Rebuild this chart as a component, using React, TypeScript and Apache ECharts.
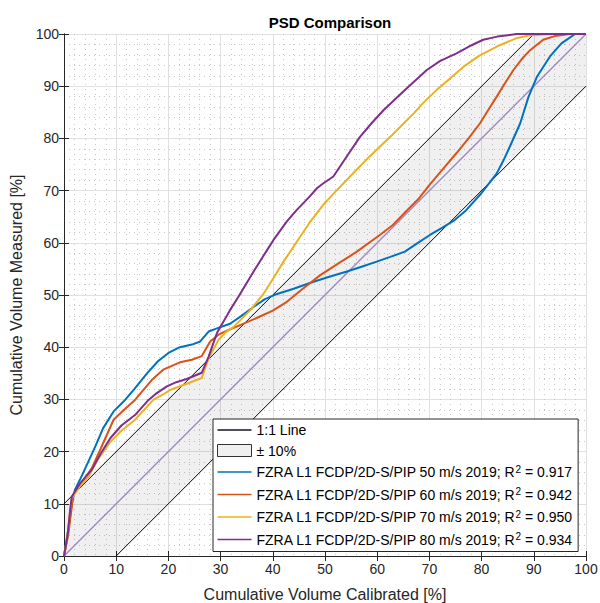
import React, { useEffect, useRef } from "react";
import * as echarts from "echarts";

// ---- data ----
const tickValues = [0, 10, 20, 30, 40, 50, 60, 70, 80, 90, 100];

const calibrated50 = [0, 0.8, 1.5, 2.1, 3, 4.4, 6, 7.5, 9.5, 11.7, 13.5, 15.9, 18, 20, 22.2, 24.5, 26.1, 27.7, 29.3, 31.8, 34, 36.3, 38.5, 40.8, 44, 47.1, 50.5, 54.2, 57, 59.9, 62.5, 65.3, 67.5, 70.1, 72.5, 74.9, 77, 79.7, 81.5, 82.9, 84.2, 85.4, 87.4, 89, 90.6, 93.1, 95.3, 97.9, 100];
const measured50 = [0, 5, 10, 12.7, 14.5, 17.5, 21, 24.5, 27.7, 29.9, 32, 35, 37.3, 38.9, 40, 40.5, 41.1, 43, 43.6, 44.5, 46, 47.7, 49.2, 50.2, 51.2, 52.3, 53.4, 54.5, 55.4, 56.4, 57.3, 58.3, 59.8, 61.5, 62.9, 64.4, 66.2, 69.2, 71.5, 73.3, 75.8, 78.4, 82.9, 88, 91.8, 95.7, 98.2, 100, 100];

const calibrated60 = [0, 0.8, 1.5, 1.8, 3, 5.3, 7, 9.5, 11.5, 13.6, 16.8, 19, 22.2, 24.5, 26.4, 28, 29.6, 31.5, 33.4, 36.9, 40, 42.7, 45.5, 49.1, 52.5, 56.1, 60.5, 63, 65.7, 68, 70.1, 72.5, 75.2, 77.5, 79.7, 81.3, 82.9, 84.5, 86.1, 87.7, 89.3, 91.8, 94, 96.9, 100];
const measured60 = [0, 4, 9.5, 11.7, 13.5, 16.8, 20.5, 26.1, 28, 29.9, 33.7, 35.7, 37.1, 37.6, 38.3, 41.1, 42.4, 43.3, 44.1, 45.6, 47, 48.7, 51, 53.8, 56, 58.3, 61.5, 63.4, 66.2, 68.5, 71.2, 74, 77.2, 80, 82.9, 85.5, 88, 90.6, 93.1, 95.2, 96.9, 98.9, 99.6, 100, 100];

const calibrated70 = [0, 0.7, 1.2, 1.5, 3, 4.7, 6.5, 8.9, 11, 13.6, 17.1, 19.4, 20.3, 23.5, 26.4, 27.7, 29.6, 31, 32.5, 35.7, 38.2, 40.1, 42, 44.6, 47, 49.7, 52, 54.8, 58.5, 62.5, 65, 67, 69, 71.4, 74, 76.5, 79.5, 82.9, 86.7, 89, 93.7, 100];
const measured70 = [0, 4, 9, 11.1, 13.3, 15.2, 18.5, 21.9, 24, 26.1, 29.9, 31.2, 31.8, 33, 34.1, 37.9, 41.4, 42.9, 43.9, 47.1, 50.2, 53.2, 56.3, 60.2, 63.8, 67.3, 69.8, 72.7, 76.5, 80.3, 82.8, 84.8, 87, 89.3, 91.5, 93.7, 95.8, 97.6, 99.2, 99.7, 100, 100];

const calibrated80 = [0, 0.7, 1.2, 1.5, 3, 5.3, 7, 8.9, 11, 13.6, 16.2, 17.5, 19.7, 21.5, 23.5, 26.4, 27.7, 29.3, 31.8, 33.5, 35, 36.5, 38.9, 40.1, 42.7, 44.6, 47, 48.5, 49.7, 51.6, 54, 56.7, 59, 61.2, 65, 69.5, 72, 75.2, 78, 80.3, 83, 86.7, 100];
const measured80 = [0, 4, 9, 11.4, 13.8, 16.5, 19.6, 22.6, 25, 27, 29.9, 31, 32.5, 33.3, 33.9, 35.1, 38.2, 42.7, 47.1, 49.8, 52.3, 54.8, 58.6, 60.5, 64.1, 66.3, 68.8, 70.5, 71.4, 72.7, 76.3, 80.3, 83, 85.4, 89, 93.1, 94.8, 96.3, 97.8, 98.9, 99.5, 100, 100];

const oneToOne = [[0, 0], [100, 100]];
const upperBound = [[0, 10], [90, 100]];
const lowerBound = [[10, 0], [100, 90]];
const bandPolygon = [[0, 0], [0, 10], [90, 100], [100, 100], [100, 90], [10, 0]];

const seriesNames = [
  "FZRA L1 FCDP/2D-S/PIP 50 m/s 2019; R^2 = 0.917",
  "FZRA L1 FCDP/2D-S/PIP 60 m/s 2019; R^2 = 0.942",
  "FZRA L1 FCDP/2D-S/PIP 70 m/s 2019; R^2 = 0.950",
  "FZRA L1 FCDP/2D-S/PIP 80 m/s 2019; R^2 = 0.934",
];
const seriesColors = ["#0072BD", "#D95319", "#EDB120", "#7E2F8E"];
const seriesX = [calibrated50, calibrated60, calibrated70, calibrated80];
const seriesY = [measured50, measured60, measured70, measured80];

const FONT = "'Liberation Sans', Arial, Helvetica, sans-serif";
const AXIS_COLOR = "#262626";
const LINE_ICON = "path://M0,0 L34,0 L34,1.3 L0,1.3 Z";

function zip(xs: number[], ys: number[]) {
  return xs.map((x, i) => [x, ys[i]]);
}

export default function App() {
  const ref = useRef<HTMLDivElement>(null);
  useEffect(() => {
    if (!ref.current) return;
    const chart = echarts.init(ref.current, undefined, { renderer: "svg" });

    const baseAxis = {
      type: "value" as const,
      min: 0,
      max: 100,
      interval: 10,
    };

    const option: any = {
      animation: false,
      backgroundColor: "#ffffff",
      textStyle: { fontFamily: FONT },
      title: {
        text: "PSD Comparison",
        left: 325,
        top: 10,
        textAlign: "center",
        textStyle: { fontFamily: FONT, fontSize: 15, fontWeight: "bold", color: "#000" },
      },
      grid: { left: 64, right: 14, top: 34, bottom: 47, containLabel: false, outerBoundsMode: "none" },
      xAxis: [
        {
          ...baseAxis,
          position: "bottom",
          name: "Cumulative Volume Calibrated [%]",
          nameLocation: "middle",
          nameGap: 30,
          nameTextStyle: { fontFamily: FONT, fontSize: 16, color: "#262626" },
          axisLine: { show: true, lineStyle: { color: AXIS_COLOR, width: 1 } },
          axisTick: { show: true, inside: true, length: 5, lineStyle: { color: AXIS_COLOR } },
          axisLabel: {
            fontFamily: FONT, fontSize: 14, color: "#262626", margin: 6,
            formatter: (v: number) => (tickValues.includes(Math.round(v)) ? String(Math.round(v)) : ""),
          },
          splitLine: { show: true, lineStyle: { color: "#e0e0e0", width: 1 } },
          minorTick: { show: false, splitNumber: 5 },
          minorSplitLine: { show: true, lineStyle: { color: "#c8c8c8", width: 1, type: [1, 4] } },
        },
        {
          ...baseAxis,
          position: "top",
          axisLine: { show: true, lineStyle: { color: AXIS_COLOR, width: 1 } },
          axisTick: { show: true, inside: true, length: 5, lineStyle: { color: AXIS_COLOR } },
          axisLabel: { show: false },
          splitLine: { show: false },
        },
      ],
      yAxis: [
        {
          ...baseAxis,
          position: "left",
          name: "Cumulative Volume Measured [%]",
          nameLocation: "middle",
          nameGap: 32,
          nameTextStyle: { fontFamily: FONT, fontSize: 16, color: "#262626" },
          axisLine: { show: true, lineStyle: { color: AXIS_COLOR, width: 1 } },
          axisTick: { show: true, inside: true, length: 5, lineStyle: { color: AXIS_COLOR } },
          axisLabel: { fontFamily: FONT, fontSize: 14, color: "#262626", margin: 5 },
          splitLine: { show: true, lineStyle: { color: "#e0e0e0", width: 1 } },
          minorTick: { show: false, splitNumber: 5 },
          minorSplitLine: { show: true, lineStyle: { color: "#c8c8c8", width: 1, type: [1, 4] } },
        },
        {
          ...baseAxis,
          position: "right",
          axisLine: { show: true, lineStyle: { color: AXIS_COLOR, width: 1 } },
          axisTick: { show: true, inside: true, length: 5, lineStyle: { color: AXIS_COLOR } },
          axisLabel: { show: false },
          splitLine: { show: false },
        },
      ],
      legend: {
        orient: "vertical",
        left: 213,
        top: 419,
        padding: [4, 6, 4, 4],
        itemWidth: 34,
        itemHeight: 12,
        itemGap: 6.5,
        backgroundColor: "#ffffff",
        borderColor: AXIS_COLOR,
        borderWidth: 1,
        borderRadius: 0,
        textStyle: {
          fontFamily: FONT,
          fontSize: 14,
          color: "#000",
          rich: {
            t: { fontFamily: FONT, fontSize: 14, color: "#000", lineHeight: 16 },
            s: { fontFamily: FONT, fontSize: 10, color: "#000", verticalAlign: "top", lineHeight: 10, padding: [0, 0, 6, 0] },
          },
        },
        formatter: (name: string) => {
          const parts = name.split("R^2");
          if (parts.length === 2) return `{t|${parts[0]}R}{s|2}{t|${parts[1]}}`;
          return `{t|${name}}`;
        },
        data: [
          { name: "1:1 Line", icon: LINE_ICON },
          { name: "± 10%", icon: "rect", itemStyle: { color: "#f0f0f0", borderColor: "#333333", borderWidth: 1 } },
          ...seriesNames.map((n) => ({ name: n, icon: LINE_ICON })),
        ],
      },
      series: [
        {
          type: "custom",
          name: "± 10%",
          xAxisIndex: 0,
          yAxisIndex: 0,
          silent: true,
          z: 1,
          data: [[0, 0]],
          itemStyle: { color: "#f0f0f0" },
          renderItem: (_params: any, api: any) => {
            const points = bandPolygon.map((p) => api.coord(p));
            return {
              type: "polygon",
              shape: { points },
              style: { fill: "rgba(0,0,0,0.058)", stroke: "none" },
            };
          },
        },
        {
          type: "line",
          name: "diagonal",
          data: oneToOne,
          symbol: "none",
          z: 2,
          lineStyle: { color: "#a089c2", width: 1.4 },
          itemStyle: { color: "#a089c2" },
        },
        {
          type: "line",
          name: "1:1 Line",
          data: upperBound,
          symbol: "none",
          z: 2,
          lineStyle: { color: "#000", width: 1 },
          itemStyle: { color: "#1a1022" },
        },
        {
          type: "line",
          name: "lower",
          data: lowerBound,
          symbol: "none",
          z: 2,
          lineStyle: { color: "#000", width: 1 },
          itemStyle: { color: "#000" },
        },
        ...seriesNames.map((n, i) => ({
          type: "line",
          name: n,
          data: zip(seriesX[i], seriesY[i]),
          symbol: "none",
          z: 3,
          lineStyle: { color: seriesColors[i], width: 2 },
          itemStyle: { color: seriesColors[i] },
        })),
      ],
    };

    chart.setOption(option);
    return () => chart.dispose();
  }, []);

  return <div ref={ref} style={{ width: 600, height: 603, position: "absolute", left: 0, top: 0 }} />;
}
